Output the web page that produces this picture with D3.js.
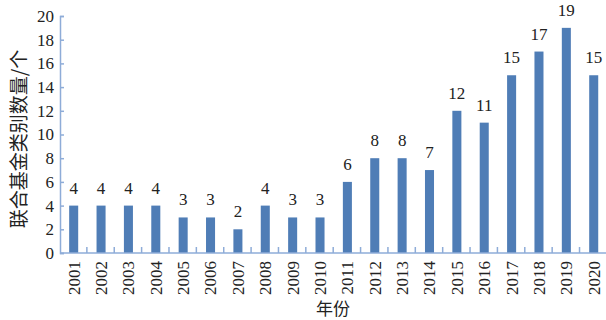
<!DOCTYPE html>
<html>
<head>
<meta charset="utf-8">
<script src="https://cdn.jsdelivr.net/npm/d3@7"></script>
<style>
  body { margin: 0; background: #fff; }
  .num { font-family: 'Liberation Serif', 'DejaVu Serif', serif; font-size: 17px; fill: #222; }
  .cjk { font-family: 'Noto Sans CJK SC', sans-serif; fill: #222; }
</style>
</head>
<body>
<script>
var years = ['2001','2002','2003','2004','2005','2006','2007','2008','2009','2010',
             '2011','2012','2013','2014','2015','2016','2017','2018','2019','2020'];
var counts = [4, 4, 4, 4, 3, 3, 2, 4, 3, 3, 6, 8, 8, 7, 12, 11, 15, 17, 19, 15];
var yTicks = [0, 2, 4, 6, 8, 10, 12, 14, 16, 18, 20];

var w = 606;
var h = 320;
var plotLeft = 60, plotRight = 607.4, plotTop = 16, plotBottom = 253;
var axisColor = '#8eacd8';
var barColor = '#4f7db6';

var svg = d3.select('body').append('svg')
            .attr('width', w)
            .attr('height', h);

var x = d3.scaleBand()
          .domain(years)
          .range([plotLeft, plotRight])
          .paddingInner(0.67)
          .paddingOuter(0.335);

var y = d3.scaleLinear()
          .domain([0, 20])
          .range([plotBottom, plotTop]);

// bars
svg.selectAll('rect.bar')
   .data(counts)
   .enter()
   .append('rect')
   .attr('class', 'bar')
   .attr('x', function(d, i){ return x(years[i]); })
   .attr('y', function(d){ return y(d); })
   .attr('width', x.bandwidth())
   .attr('height', function(d){ return y(0) - y(d); })
   .style('fill', barColor);

// value labels
svg.selectAll('text.val')
   .data(counts)
   .enter()
   .append('text')
   .attr('class', 'val num')
   .attr('x', function(d, i){ return x(years[i]) + x.bandwidth() / 2; })
   .attr('y', function(d){ return y(d) - 12; })
   .attr('text-anchor', 'middle')
   .text(function(d){ return d; });

// y axis
var yAxis = d3.axisRight(y)
              .tickValues(yTicks)
              .tickSize(4)
              .tickFormat('');
var gy = svg.append('g')
   .attr('transform', 'translate(' + plotLeft + ',0)')
   .call(yAxis);
gy.select('.domain').attr('stroke', axisColor).attr('stroke-width', 1.5);
gy.selectAll('.tick line').attr('stroke', axisColor).attr('stroke-width', 1.5);

svg.selectAll('text.ytick')
   .data(yTicks)
   .enter()
   .append('text')
   .attr('class', 'ytick num')
   .attr('x', plotLeft - 6)
   .attr('y', function(d){ return y(d); })
   .attr('dy', '0.35em')
   .attr('text-anchor', 'end')
   .text(function(d){ return d; });

// x axis: line plus separators between categories
svg.append('line')
   .attr('x1', plotLeft).attr('x2', w)
   .attr('y1', plotBottom).attr('y2', plotBottom)
   .attr('stroke', axisColor)
   .attr('stroke-width', 1.5);

svg.selectAll('line.sep')
   .data(years.slice(1))
   .enter()
   .append('line')
   .attr('class', 'sep')
   .attr('x1', function(d){ return x(d) - x.step() * x.paddingInner() / 2 - 0.5; })
   .attr('x2', function(d){ return x(d) - x.step() * x.paddingInner() / 2 - 0.5; })
   .attr('y1', plotBottom)
   .attr('y2', plotBottom - 6)
   .attr('stroke', axisColor)
   .attr('stroke-width', 1.5);

svg.selectAll('text.xtick')
   .data(years)
   .enter()
   .append('text')
   .attr('class', 'xtick num')
   .attr('transform', function(d){
     return 'translate(' + (x(d) + x.bandwidth() / 2) + ',' + (plotBottom + 8) + ') rotate(-90)';
   })
   .attr('dy', '0.35em')
   .attr('text-anchor', 'end')
   .text(function(d){ return d; });

// titles
svg.append('text')
   .attr('class', 'cjk')
   .attr('x', 333)
   .attr('y', 309)
   .attr('dy', '0.35em')
   .attr('text-anchor', 'middle')
   .style('font-size', '17px')
   .text('年份');

svg.append('text')
   .attr('class', 'cjk')
   .attr('transform', 'translate(19,139) rotate(-90)')
   .attr('dy', '0.35em')
   .attr('text-anchor', 'middle')
   .style('font-size', '19px')
   .text('联合基金类别数量/个');
</script>
</body>
</html>
